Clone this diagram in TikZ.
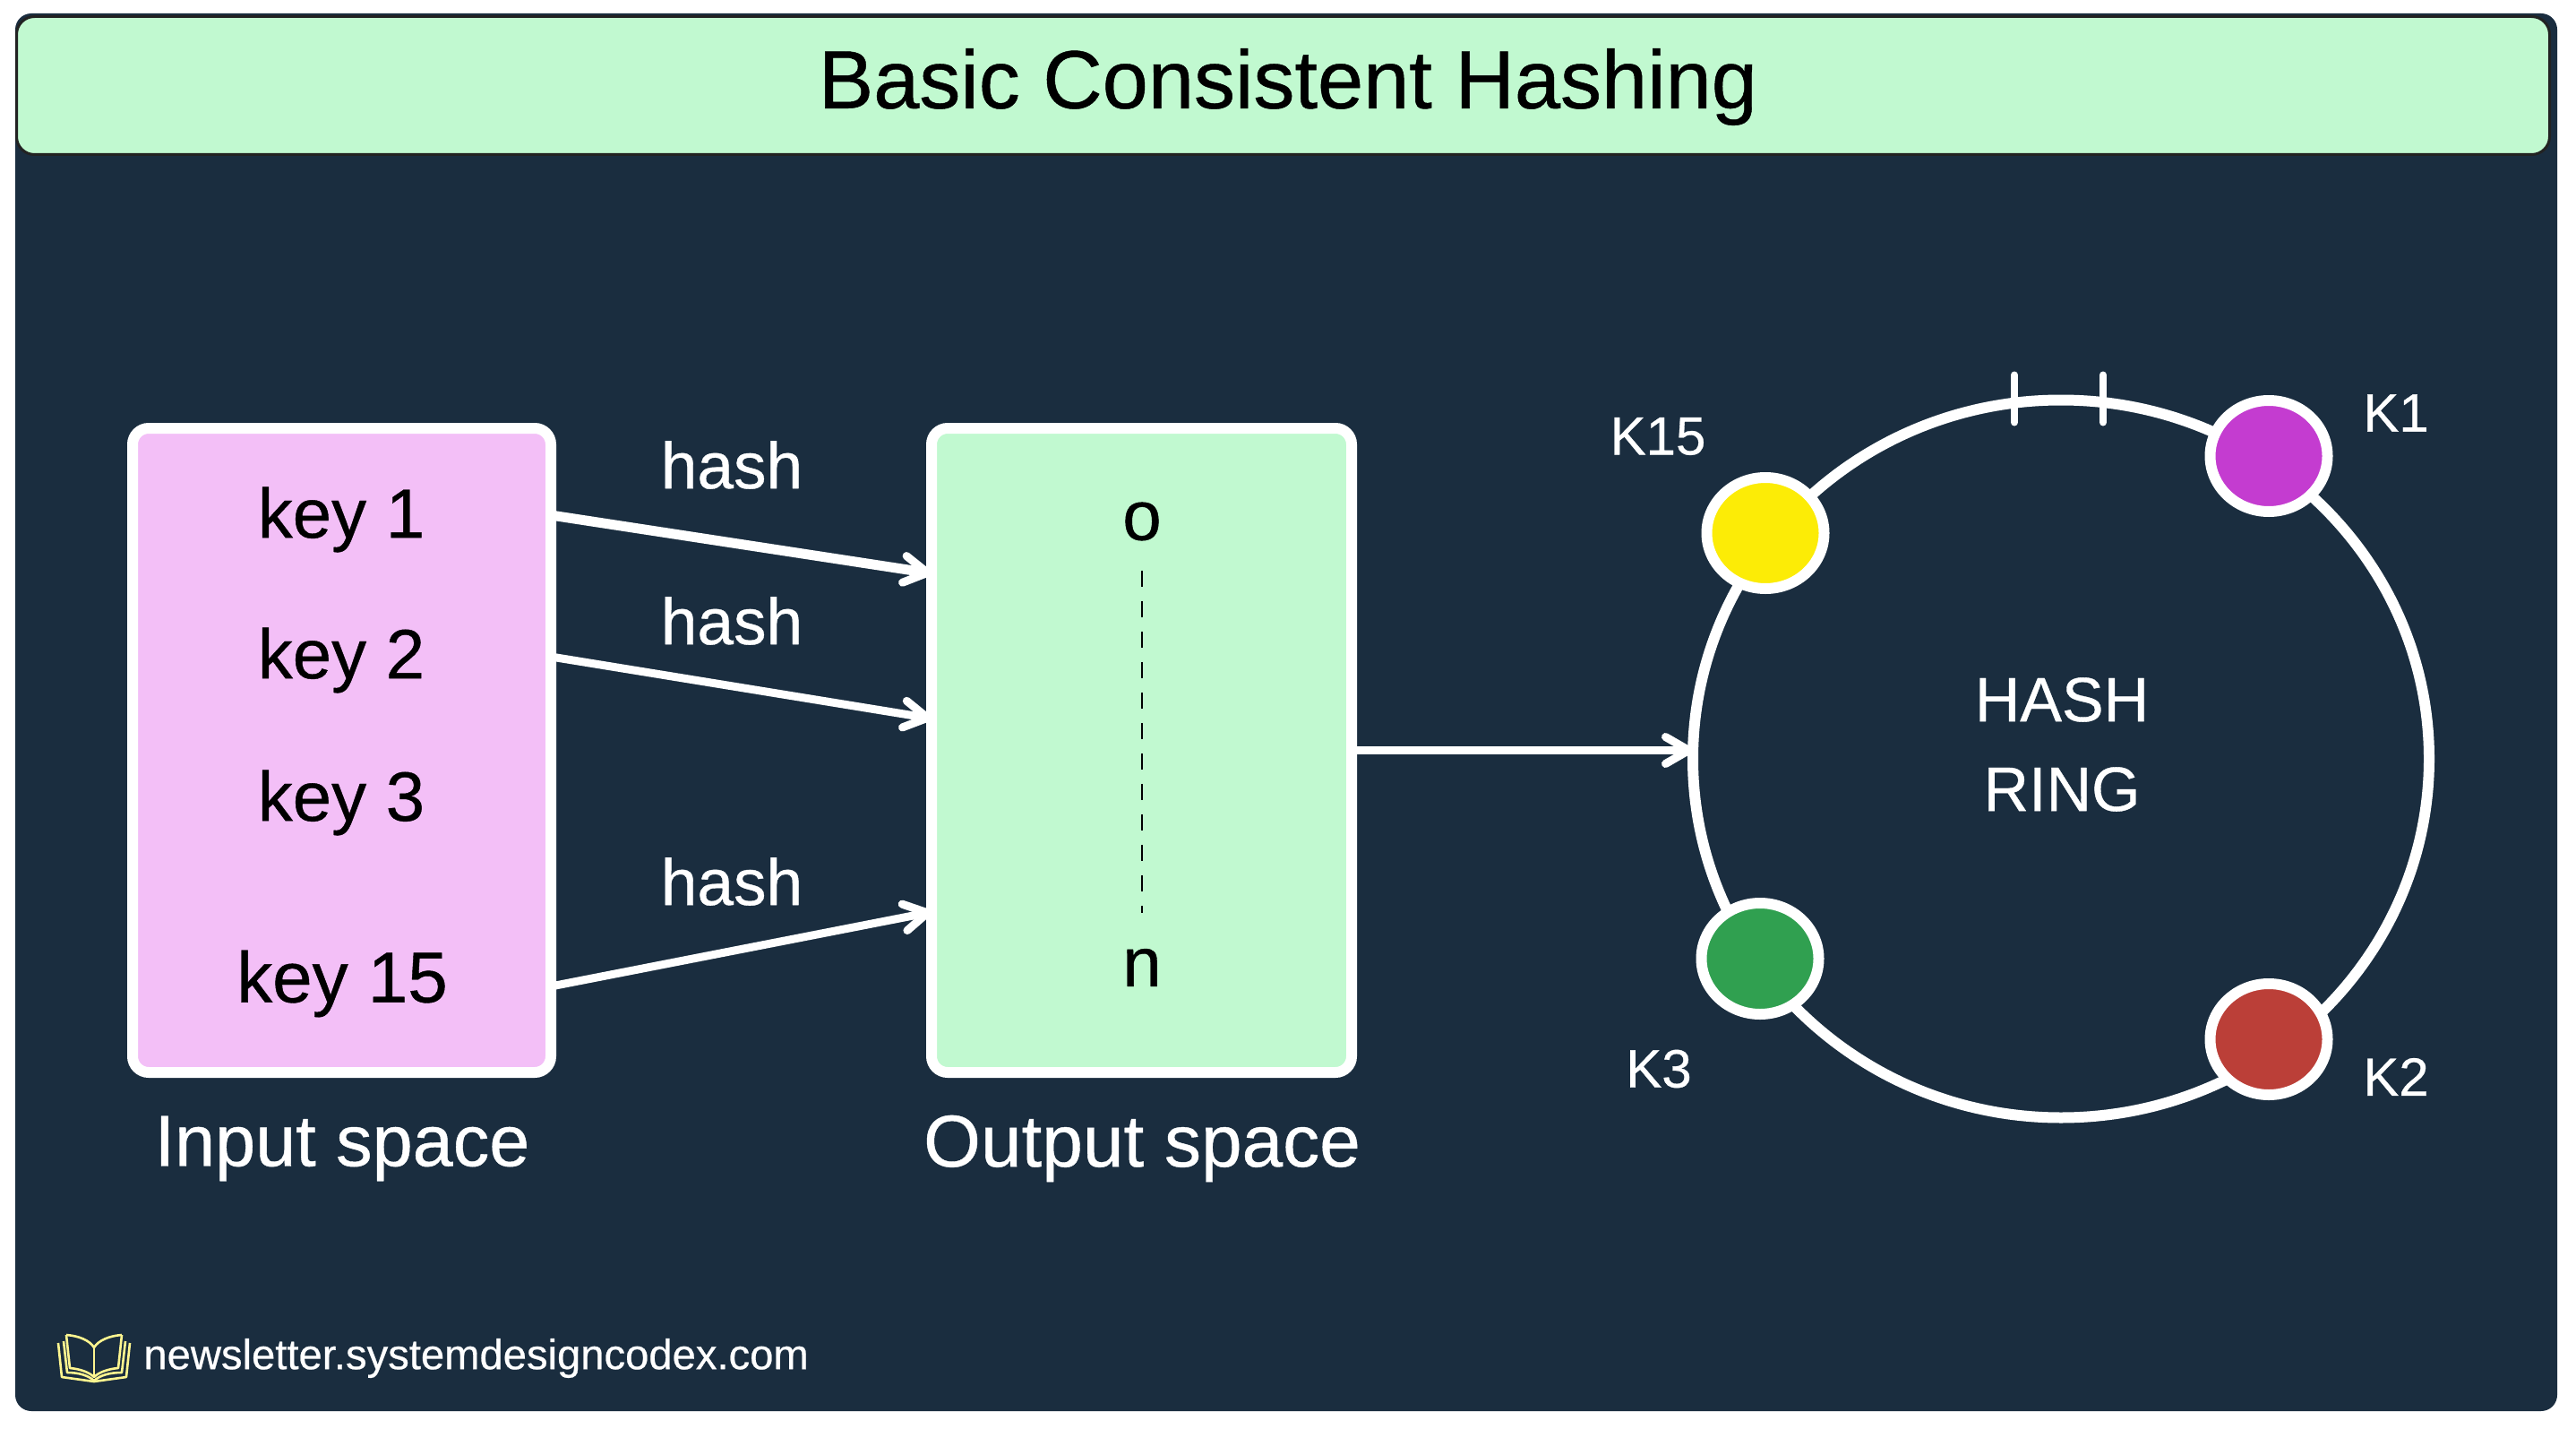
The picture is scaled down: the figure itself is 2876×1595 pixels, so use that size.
\documentclass[tikz,border=0pt]{standalone}
\usepackage{fontspec}
\setmainfont{Liberation Sans}
\newfontfamily\handfont[FakeBold=0.5]{Liberation Sans}
\usetikzlibrary{arrows.meta,shapes.geometric}
\definecolor{bgnavy}{HTML}{1A2D3F}
\definecolor{mint}{HTML}{C1F9D0}
\definecolor{pinkbox}{HTML}{F3BFF7}
\definecolor{keyyellow}{HTML}{FCEC06}
\definecolor{keypurple}{HTML}{C43CD0}
\definecolor{keyred}{HTML}{BB3F38}
\definecolor{keygreen}{HTML}{30A050}
\definecolor{bookyellow}{HTML}{FDF58F}
\definecolor{edgedark}{HTML}{222222}
\newcommand{\fsz}[1]{\handfont\fontsize{#1pt}{#1pt}\selectfont}
\tikzset{
  x=0.5pt,y=-0.5pt,
  panel/.style={draw=white,line width=6pt,rounded corners=9pt,outer sep=0pt,inner sep=0pt,minimum width=#1,minimum height=359.5pt},
  keytext/.style={text=black,inner sep=0pt,font=\fsz{39}},
  whitetext/.style={text=white,inner sep=0pt},
  dot/.style={ellipse,draw=white,line width=6pt,minimum width=65.5pt,minimum height=62pt,inner sep=0pt,outer sep=0pt},
  ringstyle/.style={ellipse,draw=white,line width=6pt,minimum width=411pt,minimum height=400.5pt,inner sep=0pt,outer sep=0pt},
  arrowline/.style={draw=white,line width=5.5pt,line cap=round,-{Straight Barb[length=13pt,width=15pt,line width=4.5pt,round]}},
  ticks/.style={draw=white,line width=4pt,line cap=round},
  bookline/.style={draw=bookyellow,line width=1.3pt,line join=round},
}
\begin{document}
\begin{tikzpicture}
\useasboundingbox (0,0) rectangle (2876,1595);
\fill[white] (0,0) rectangle (2876,1595);
% frame
\fill[bgnavy,rounded corners=9pt] (17,15) rectangle (2855,1575);
\node[draw=edgedark,fill=mint,line width=1.5pt,rounded corners=10pt,minimum width=1414pt,minimum height=77pt,inner sep=0pt,outer sep=0pt] (titlebar) at (1432.5,95.5) {};
\node[text=black,inner sep=0pt,font=\fsz{46}] (titletext) at (1438,97) {Basic Consistent Hashing};
% boxes
\node[panel=233.5pt,fill=pinkbox] (inp) at (381.5,837.5) {};
\node[panel=234.5pt,fill=mint] (out) at (1274.5,837.5) {};
\node[keytext] (k1) at (381,580) {key 1};
\node[keytext] (k2) at (381,737) {key 2};
\node[keytext] (k3) at (381,896) {key 3};
\node[keytext,font=\fsz{40}] (k15) at (382,1098) {key 15};
\node[keytext] (o) at (1275,582) {o};
\node[keytext] (n) at (1275,1080) {n};
\draw[black,line width=1.3pt,dash pattern=on 9pt off 8pt] ([yshift=-16.5pt]o.south) -- ([yshift=20pt]n.north);
\node[whitetext,font=\fsz{40.5}] (inlabel) at (382,1282) {Input space};
\node[whitetext,font=\fsz{41}] (outlabel) at (1275,1282) {Output space};
% hash labels
\node[whitetext,font=\fsz{36.5}] (h1) at (817,519) {hash};
\node[whitetext,font=\fsz{36.5}] (h2) at (817,693) {hash};
\node[whitetext,font=\fsz{36.5}] (h3) at (817,984) {hash};
% arrows
\draw[arrowline] ([yshift=-48.5pt]inp.north east) -- ([yshift=-81pt]out.north west);
\draw[arrowline,line width=4.5pt] ([yshift=-127.5pt]inp.north east) -- ([yshift=-162pt]out.north west);
\draw[arrowline,line width=4.5pt] ([yshift=-311.5pt]inp.north east) -- ([yshift=-270pt]out.north west);
% ring
\node[ringstyle] (ring) at (2301,847) {};
\draw[ticks] ([xshift=-26pt,yshift=14pt]ring.north) -- ([xshift=-26pt,yshift=-12.5pt]ring.north);
\draw[ticks] ([xshift=23.5pt,yshift=14pt]ring.north) -- ([xshift=23.5pt,yshift=-12.5pt]ring.north);
\draw[arrowline,line width=4.5pt] (out.east) -- (ring.west |- out.east);
\node[dot,fill=keyyellow] (d15) at (1971,595) {};
\node[dot,fill=keypurple] (d1) at (2533,509) {};
\node[dot,fill=keyred] (d2) at (2533,1160) {};
\node[dot,fill=keygreen] (d3) at (1965,1070) {};
\node[whitetext,font=\fsz{35}] (hashtext) at (2302,781) {HASH};
\node[whitetext,font=\fsz{35}] (ringtext) at (2302,881) {RING};
\node[whitetext,font=\fsz{30}] (l15) at (1851,487) {K15};
\node[whitetext,font=\fsz{30}] (l1) at (2675,461) {K1};
\node[whitetext,font=\fsz{30}] (l3) at (1852,1193) {K3};
\node[whitetext,font=\fsz{30}] (l2) at (2675,1202) {K2};
% book icon
\draw[bookline] (65,1499) -- (69,1537) -- (105,1542) -- (141,1537) -- (145,1499);
\draw[bookline] (71,1497) -- (75,1532) .. controls (88,1532) and (98,1535) .. (105,1541) .. controls (112,1535) and (122,1532) .. (136,1532) -- (140,1497);
\draw[bookline] (74,1490) -- (78,1527) .. controls (90,1528) and (100,1532) .. (105,1537) .. controls (110,1532) and (120,1528) .. (132,1527) -- (136,1490);
\draw[bookline] (74,1490) .. controls (88,1491) and (100,1496) .. (105,1504) .. controls (110,1496) and (122,1491) .. (136,1490);
\draw[bookline] (105,1504) -- (105,1537);
\node[whitetext,font=\fsz{23.6},anchor=west] (site) at (160,1516) {newsletter.systemdesigncodex.com};
\end{tikzpicture}
\end{document}
